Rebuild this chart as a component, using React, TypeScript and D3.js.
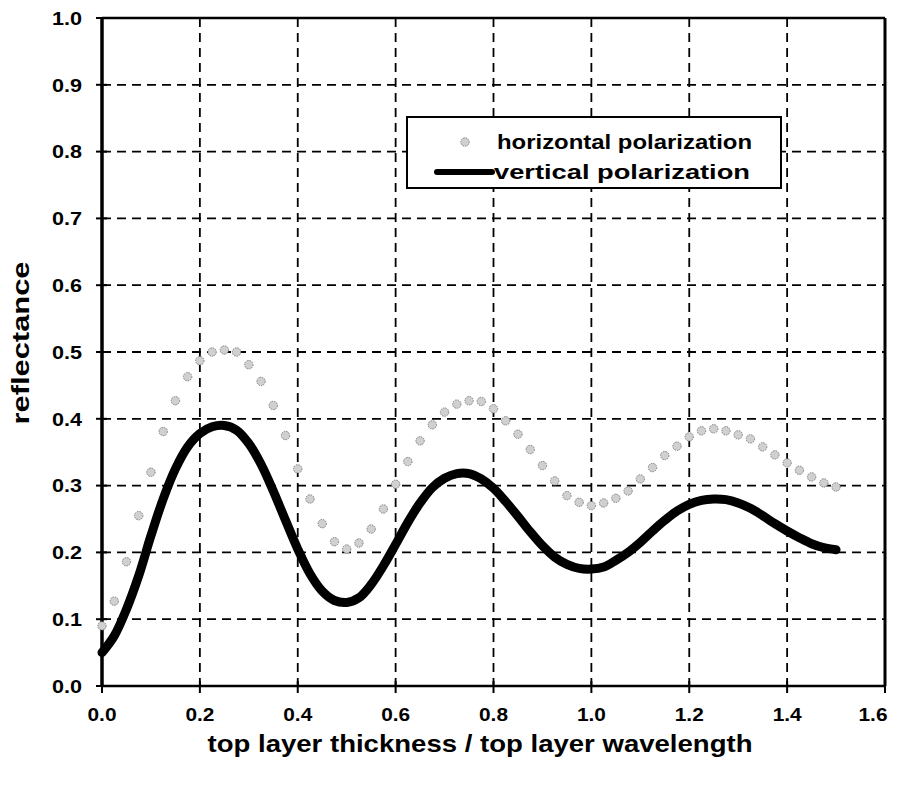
import React from "react";
import * as d3 from "d3";

// thickness ratio, sampled every 0.025 from 0 to 1.5
const thickness: number[] = d3.range(0, 61).map((i) => i * 0.025);

// reflectance, horizontal polarization (markers)
const horizontal: number[] = [
  0.09, 0.127, 0.186, 0.255, 0.32, 0.381, 0.427, 0.463, 0.487, 0.5,
  0.503, 0.5, 0.481, 0.456, 0.42, 0.375, 0.325, 0.28, 0.243, 0.216,
  0.205, 0.214, 0.235, 0.265, 0.302, 0.336, 0.367, 0.391, 0.41, 0.422,
  0.427, 0.426, 0.415, 0.397, 0.377, 0.354, 0.33, 0.307, 0.285, 0.275,
  0.27, 0.274, 0.281, 0.292, 0.31, 0.327, 0.345, 0.359, 0.373, 0.382,
  0.385, 0.382, 0.376, 0.37, 0.358, 0.346, 0.334, 0.323, 0.313, 0.304,
  0.298,
];

// reflectance, vertical polarization (thick line)
const vertical: number[] = [
  0.05, 0.075, 0.115, 0.165, 0.225, 0.28, 0.325, 0.358, 0.378, 0.388,
  0.39, 0.383, 0.363, 0.332, 0.292, 0.248, 0.205, 0.168, 0.142, 0.128,
  0.125, 0.132, 0.152, 0.18, 0.212, 0.245, 0.274, 0.297, 0.311, 0.318,
  0.318, 0.31, 0.296, 0.276, 0.254, 0.231, 0.21, 0.193, 0.182, 0.176,
  0.175, 0.178, 0.188, 0.2, 0.215, 0.232, 0.248, 0.262, 0.272, 0.278,
  0.28, 0.279, 0.274, 0.266, 0.255, 0.243, 0.232, 0.222, 0.213, 0.207,
  0.204,
];

const xTicks: number[] = [0, 0.2, 0.4, 0.6, 0.8, 1.0, 1.2, 1.4, 1.6];
const yTicks: number[] = [0, 0.1, 0.2, 0.3, 0.4, 0.5, 0.6, 0.7, 0.8, 0.9, 1.0];

const seriesNames: string[] = ["horizontal polarization", "vertical polarization"];
const xTitle = "top layer thickness / top layer wavelength";
const yTitle = "reflectance";

const W = 907;
const H = 785;
const left = 102;
const right = 885;
const top = 18;
const bottom = 686;

const FONT = "'Liberation Sans', Arial, Helvetica, sans-serif";

export default function App() {
  const x = d3.scaleLinear().domain([0, 1.6]).range([left, right]);
  const y = d3.scaleLinear().domain([0, 1]).range([bottom, top]);

  const line = d3
    .line<number>()
    .x((_, i) => x(thickness[i]))
    .y((d) => y(d))
    .curve(d3.curveCatmullRom);

  const fmt = d3.format(".1f");

  return (
    <svg
      width={W}
      height={H}
      style={{ position: "absolute", left: 0, top: 0, background: "#fff" }}
      fontFamily={FONT}
      fontWeight="bold"
    >
      <rect x={0} y={0} width={W} height={H} fill="#fff" />

      {/* dashed grid */}
      <g stroke="#000" strokeWidth={1.8} strokeDasharray="9 6">
        {yTicks
          .filter((t) => t > 0 && t < 1)
          .map((t) => (
            <line key={"gy" + t} x1={left} x2={right} y1={y(t)} y2={y(t)} />
          ))}
        {xTicks
          .filter((t) => t > 0 && t < 1.6)
          .map((t) => (
            <line key={"gx" + t} x1={x(t)} x2={x(t)} y1={top} y2={bottom} />
          ))}
      </g>

      {/* plot frame */}
      <line x1={left} x2={right} y1={top} y2={top} stroke="#000" strokeWidth={2.5} />
      <line x1={right} x2={right} y1={top} y2={bottom} stroke="#000" strokeWidth={3} />
      <line x1={left} x2={right} y1={bottom} y2={bottom} stroke="#000" strokeWidth={2.5} />
      <line x1={left} x2={left} y1={top} y2={bottom} stroke="#000" strokeWidth={3.5} />

      {/* y ticks and labels */}
      {yTicks.map((t) => (
        <g key={"yt" + t}>
          <line x1={left - 6} x2={left + 5} y1={y(t)} y2={y(t)} stroke="#000" strokeWidth={2} />
          <text
            x={82}
            y={y(t)}
            dy="0.36em"
            textAnchor="end"
            fontSize={19}
            textLength={30}
            lengthAdjust="spacingAndGlyphs"
          >
            {fmt(t)}
          </text>
        </g>
      ))}

      {/* x ticks and labels */}
      {xTicks.map((t) => (
        <g key={"xt" + t}>
          <line x1={x(t)} x2={x(t)} y1={bottom - 5} y2={bottom + 7} stroke="#000" strokeWidth={2} />
          <text
            x={Math.min(x(t), 873)}
            y={721}
            textAnchor="middle"
            fontSize={19}
            textLength={29}
            lengthAdjust="spacingAndGlyphs"
          >
            {fmt(t)}
          </text>
        </g>
      ))}

      {/* vertical polarization */}
      <path
        d={line(vertical) ?? ""}
        fill="none"
        stroke="#000"
        strokeWidth={9}
        strokeLinecap="round"
        strokeLinejoin="round"
      />

      {/* horizontal polarization */}
      <g fill="#d0d0d0" stroke="#808080" strokeWidth={1} strokeDasharray="1.5 1">
        {horizontal.map((v, i) => (
          <circle key={"h" + i} cx={x(thickness[i])} cy={y(v)} r={4.2} />
        ))}
      </g>

      {/* legend */}
      <g>
        <rect x={407} y={117} width={374} height={71} fill="#fff" stroke="#000" strokeWidth={2} />
        <circle cx={465} cy={142} r={4.2} fill="#d0d0d0" stroke="#808080" strokeWidth={1} strokeDasharray="1.5 1" />
        <text x={497} y={149} fontSize={20} textLength={255} lengthAdjust="spacingAndGlyphs">
          {seriesNames[0]}
        </text>
        <line x1={437} x2={492} y1={172} y2={172} stroke="#000" strokeWidth={6} strokeLinecap="round" />
        <text x={494} y={179} fontSize={20} textLength={256} lengthAdjust="spacingAndGlyphs">
          {seriesNames[1]}
        </text>
      </g>

      {/* axis titles */}
      <text
        x={480}
        y={752}
        textAnchor="middle"
        fontSize={24}
        textLength={545}
        lengthAdjust="spacingAndGlyphs"
      >
        {xTitle}
      </text>
      <text
        transform={`translate(29, 343) rotate(-90)`}
        textAnchor="middle"
        fontSize={24}
        textLength={163}
        lengthAdjust="spacingAndGlyphs"
      >
        {yTitle}
      </text>
    </svg>
  );
}
